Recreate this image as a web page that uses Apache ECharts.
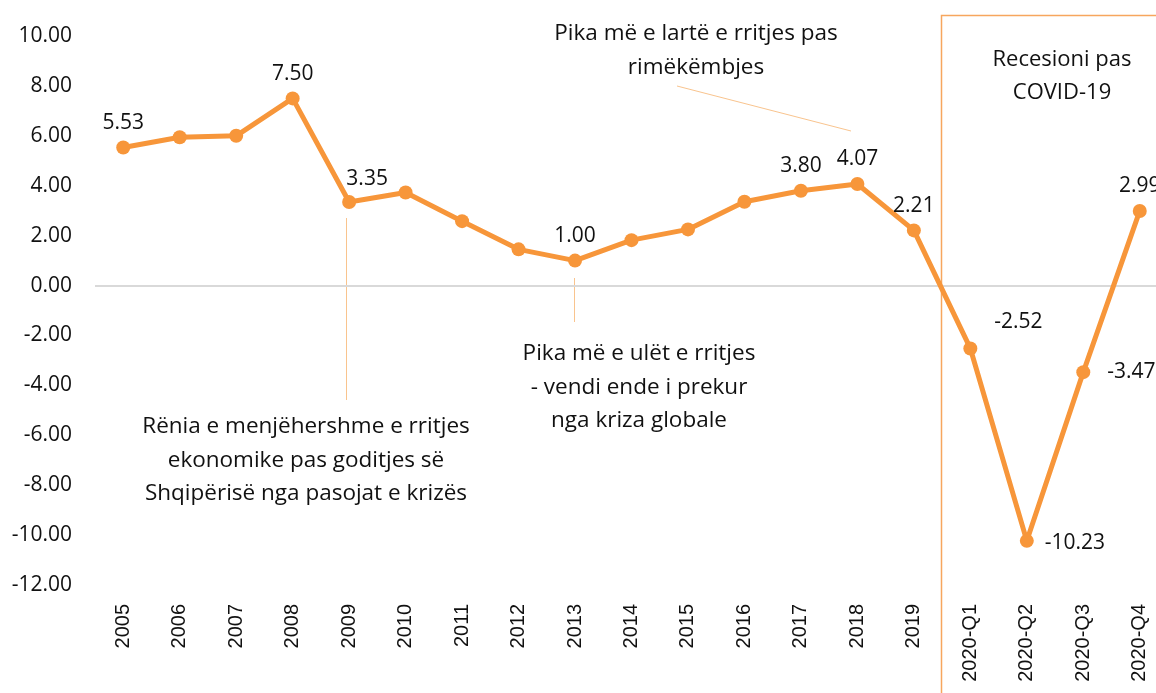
<!DOCTYPE html>
<html>
<head>
<meta charset="utf-8">
<script src="https://cdn.jsdelivr.net/npm/echarts@6/dist/echarts.min.js"></script>
<style>
  html, body { margin: 0; padding: 0; background: #fff; }
  #main { width: 1156px; height: 693px; }
</style>
</head>
<body>
<div id="main"></div>
<script>
// kategorite (vitet + tremujoret 2020)
const categories = ['2005', '2006', '2007', '2008', '2009', '2010', '2011', '2012', '2013', '2014',
  '2015', '2016', '2017', '2018', '2019', '2020-Q1', '2020-Q2', '2020-Q3', '2020-Q4']
// rritja ekonomike (%)
const growth = [5.53, 5.94, 6.00, 7.50, 3.35, 3.73, 2.58, 1.45, 1.00, 1.82,
  2.25, 3.36, 3.80, 4.07, 2.21, -2.52, -10.23, -3.47, 2.99]
// cilat pika kane etikete
const labeled = ['2005', '2008', '2009', '2013', '2017', '2018', '2019', '2020-Q1', '2020-Q2', '2020-Q3', '2020-Q4']
const yMin = -12
const yMax = 10
const yStep = 2

const orange = '#F7963A'
const leader = '#F9C48E'
const font = '"Open Sans", Lato, sans-serif'

// pozicioni i etiketes per disa pika
const labelPos = {
  '2009': { position: 'top', offset: [18, 0] },
  '2020-Q1': { position: 'top', offset: [48, -4] },
  '2020-Q2': { position: 'right', offset: [6, 2] },
  '2020-Q3': { position: 'right', offset: [12, 0] }
}

const seriesData = growth.map((v, i) => {
  const cat = categories[i]
  const show = labeled.indexOf(cat) >= 0
  const lp = labelPos[cat] || { position: 'top', offset: [0, -2] }
  return {
    value: v,
    label: { show: show, position: lp.position, offset: lp.offset }
  }
})

const chart = echarts.init(document.getElementById('main'))

const option = {
  backgroundColor: '#fff',
  animation: false,
  // grafiku vazhdon pak pertej skajit te djathte
  grid: { left: 95, width: 1073, top: 36, bottom: 108, containLabel: false, outerBoundsMode: 'none' },
  xAxis: {
    type: 'category',
    data: categories,
    boundaryGap: true,
    axisLine: { show: false },
    axisTick: { show: false },
    axisLabel: {
      rotate: 90,
      margin: 19,
      interval: 0,
      color: '#111',
      fontFamily: '"Liberation Sans", Arial, sans-serif',
      fontSize: 20
    },
    splitLine: { show: false }
  },
  yAxis: {
    type: 'value',
    min: yMin,
    max: yMax,
    interval: yStep,
    axisLine: { show: false },
    axisTick: { show: false },
    splitLine: { show: false },
    axisLabel: {
      margin: 23,
      color: '#111',
      fontFamily: font,
      fontSize: 21,
      formatter: v => v.toFixed(2)
    }
  },
  series: [{
    type: 'line',
    data: seriesData,
    symbol: 'circle',
    symbolSize: 14,
    lineStyle: { color: orange, width: 5 },
    itemStyle: { color: orange },
    label: {
      color: '#111',
      fontFamily: font,
      fontSize: 21,
      formatter: p => p.value.toFixed(2)
    },
    markLine: {
      silent: true,
      symbol: 'none',
      label: { show: false },
      lineStyle: { color: '#D9D9D9', width: 2, type: 'solid' },
      data: [{ yAxis: 0 }],
      z: 1
    },
    z: 3
  }],
  graphic: [
    // kutia e recesionit
    { type: 'rect', shape: { x: 941.5, y: 15.5, width: 240, height: 700 },
      style: { fill: 'none', stroke: '#F7A65E', lineWidth: 1.5 }, z: 0 },
    { type: 'text', x: 1062, y: 43, style: { text: 'Recesioni pas\nCOVID-19', fill: '#111',
      font: '22px ' + font, textAlign: 'center', lineHeight: 33 } },
    // vijat udhezuese
    { type: 'line', shape: { x1: 346.5, y1: 218, x2: 346.5, y2: 400 }, style: { stroke: leader, lineWidth: 1 } },
    { type: 'line', shape: { x1: 574.5, y1: 278, x2: 574.5, y2: 322 }, style: { stroke: leader, lineWidth: 1 } },
    { type: 'line', shape: { x1: 677, y1: 86, x2: 851, y2: 131 }, style: { stroke: leader, lineWidth: 1 } },
    // shenimet
    { type: 'text', x: 306, y: 410, style: { text: 'Rënia e menjëhershme e rritjes\nekonomike pas goditjes së\nShqipërisë nga pasojat e krizës',
      fill: '#111', font: '22.5px ' + font, textAlign: 'center', lineHeight: 33.5 } },
    { type: 'text', x: 639, y: 337, style: { text: 'Pika më e ulët e rritjes\n- vendi ende i prekur\nnga kriza globale',
      fill: '#111', font: '22.5px ' + font, textAlign: 'center', lineHeight: 33.5 } },
    { type: 'text', x: 696, y: 17, style: { text: 'Pika më e lartë e rritjes pas\nrimëkëmbjes',
      fill: '#111', font: '22.5px ' + font, textAlign: 'center', lineHeight: 33.5 } }
  ]
}

chart.setOption(option)
</script>
</body>
</html>
